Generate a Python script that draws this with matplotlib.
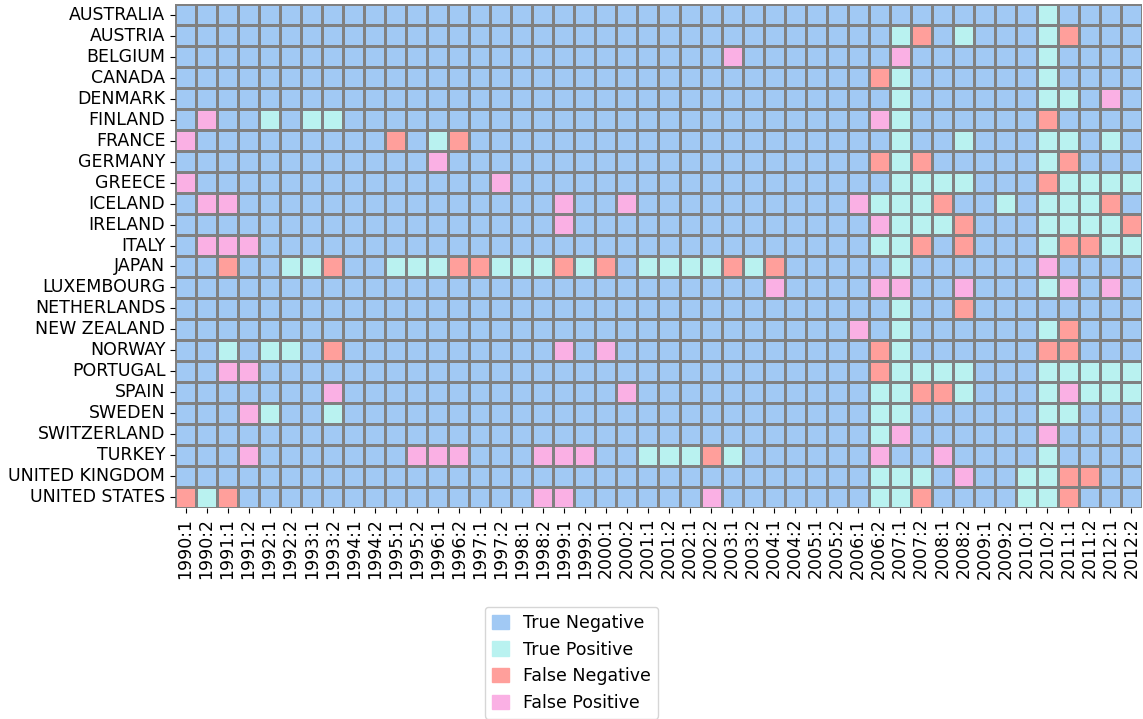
#!/usr/bin/env python3
"""Crisis prediction outcomes per country and half-year, as a categorical heatmap."""

import matplotlib
matplotlib.use("Agg")
import matplotlib.pyplot as plt
import numpy as np
import seaborn as sns
from matplotlib.colors import ListedColormap
from matplotlib.patches import Patch

countries = [
    "AUSTRALIA", "AUSTRIA", "BELGIUM", "CANADA", "DENMARK", "FINLAND",
    "FRANCE", "GERMANY", "GREECE", "ICELAND", "IRELAND", "ITALY", "JAPAN",
    "LUXEMBOURG", "NETHERLANDS", "NEW ZEALAND", "NORWAY", "PORTUGAL", "SPAIN",
    "SWEDEN", "SWITZERLAND", "TURKEY", "UNITED KINGDOM", "UNITED STATES",
]

years = list(range(1990, 2013))
periods = [f"{y}:{h}" for y in years for h in (1, 2)]

# one pair of characters per year (first half, second half)
# '.' true negative, 't' true positive, 'f' false negative, 'p' false positive
outcome_rows = [
    ".. .. .. .. .. | .. .. .. .. .. | .. .. .. .. .. | .. .. .. .. .. | .t .. ..",  # AUSTRALIA
    ".. .. .. .. .. | .. .. .. .. .. | .. .. .. .. .. | .. .. tf .t .. | .t f. ..",  # AUSTRIA
    ".. .. .. .. .. | .. .. .. .. .. | .. .. .. p. .. | .. .. p. .. .. | .t .. ..",  # BELGIUM
    ".. .. .. .. .. | .. .. .. .. .. | .. .. .. .. .. | .. .f t. .. .. | .t .. ..",  # CANADA
    ".. .. .. .. .. | .. .. .. .. .. | .. .. .. .. .. | .. .. t. .. .. | .t t. p.",  # DENMARK
    ".p .. t. tt .. | .. .. .. .. .. | .. .. .. .. .. | .. .p t. .. .. | .f .. ..",  # FINLAND
    "p. .. .. .. .. | f. tf .. .. .. | .. .. .. .. .. | .. .. t. .t .. | .t t. t.",  # FRANCE
    ".. .. .. .. .. | .. p. .. .. .. | .. .. .. .. .. | .. .f tf .. .. | .t f. ..",  # GERMANY
    "p. .. .. .. .. | .. .. .p .. .. | .. .. .. .. .. | .. .. tt tt .. | .f tt tt",  # GREECE
    ".p p. .. .. .. | .. .. .. .. p. | .p .. .. .. .. | .. pt tt f. .t | .t tt f.",  # ICELAND
    ".. .. .. .. .. | .. .. .. .. p. | .. .. .. .. .. | .. .p tt tf .. | .t tt tf",  # IRELAND
    ".p pp .. .. .. | .. .. .. .. .. | .. .. .. .. .. | .. .t tf .f .. | .t ff tt",  # ITALY
    ".. f. .t tf .. | tt tf ft tt ft | f. tt tt ft f. | .. .. t. .. .. | .p .. ..",  # JAPAN
    ".. .. .. .. .. | .. .. .. .. .. | .. .. .. .. p. | .. .p p. .p .. | .t p. p.",  # LUXEMBOURG
    ".. .. .. .. .. | .. .. .. .. .. | .. .. .. .. .. | .. .. t. .f .. | .. .. ..",  # NETHERLANDS
    ".. .. .. .. .. | .. .. .. .. .. | .. .. .. .. .. | .. p. t. .. .. | .t f. ..",  # NEW ZEALAND
    ".. t. tt .f .. | .. .. .. .. p. | p. .. .. .. .. | .. .f t. .. .. | .f f. ..",  # NORWAY
    ".. pp .. .. .. | .. .. .. .. .. | .. .. .. .. .. | .. .f tt tt .. | .t tt tt",  # PORTUGAL
    ".. .. .. .p .. | .. .. .. .. .. | .p .. .. .. .. | .. .t tf ft .. | .t pt tt",  # SPAIN
    ".. .p t. .t .. | .. .. .. .. .. | .. .. .. .. .. | .. .t t. .. .. | .t t. ..",  # SWEDEN
    ".. .. .. .. .. | .. .. .. .. .. | .. .. .. .. .. | .. .t p. .. .. | .p .. ..",  # SWITZERLAND
    ".. .p .. .. .. | .p pp .. .p pp | .. tt tf t. .. | .. .p .. p. .. | .t .. ..",  # TURKEY
    ".. .. .. .. .. | .. .. .. .. .. | .. .. .. .. .. | .. .t tt .p .. | tt ff ..",  # UNITED KINGDOM
    "ft f. .. .. .. | .. .. .. .p p. | .. .. .p .. .. | .. .t tf .. .. | tt f. ..",  # UNITED STATES
]

outcome_codes = [".", "t", "f", "p"]
outcome_labels = ["True Negative", "True Positive", "False Negative", "False Positive"]
outcome_colors = ["#a1c9f4", "#b9f2f0", "#ff9f9b", "#fab0e4"]

FONT_SIZE = 12.5


def parse_rows(rows):
    grid = []
    for row in rows:
        cells = row.replace("|", "").replace(" ", "")
        assert len(cells) == len(periods), (row, len(cells))
        grid.append([outcome_codes.index(c) for c in cells])
    return np.array(grid)


def main():
    data = parse_rows(outcome_rows)

    fig = plt.figure(figsize=(11.43, 7.19), dpi=100)
    ax = fig.add_axes([0.1531, 0.2935, 0.846, 0.7009])

    sns.heatmap(
        data,
        ax=ax,
        cmap=ListedColormap(outcome_colors),
        vmin=-0.5,
        vmax=3.5,
        cbar=False,
        linewidths=1,
        linecolor="gray",
        xticklabels=periods,
        yticklabels=countries,
    )
    ax.tick_params(axis="x", rotation=90, labelsize=FONT_SIZE)
    ax.tick_params(axis="y", rotation=0, labelsize=FONT_SIZE)

    handles = [Patch(facecolor=c, edgecolor=c, label=l) for c, l in zip(outcome_colors, outcome_labels)]
    fig.legend(
        handles=handles,
        loc="upper center",
        bbox_to_anchor=(0.5, 0.168),
        fontsize=FONT_SIZE,
        handlelength=1.0,
        handleheight=0.9,
    )

    fig.savefig("out.png", dpi=100)
    plt.close(fig)


if __name__ == "__main__":
    main()
